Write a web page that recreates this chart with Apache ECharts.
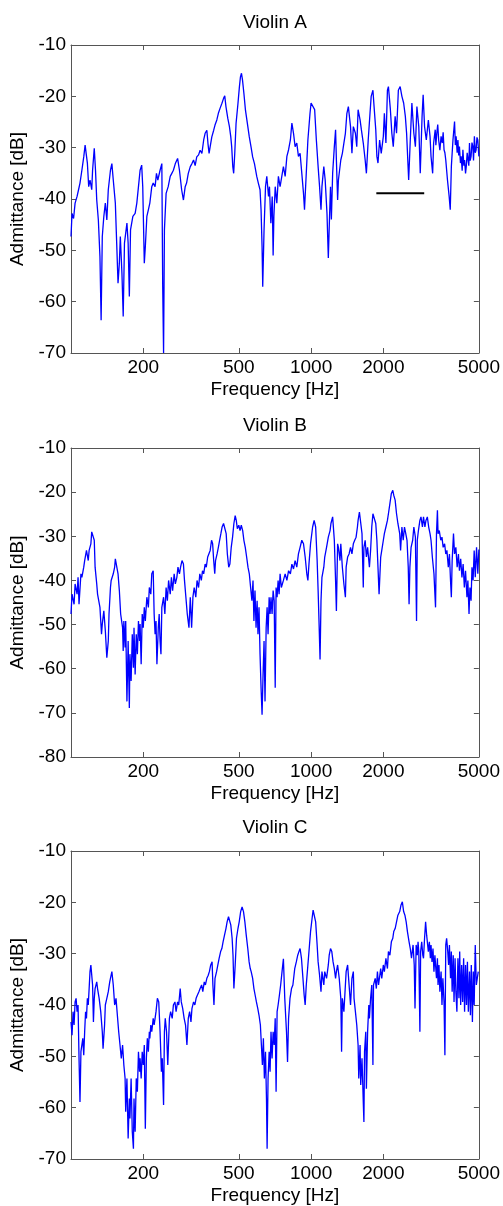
<!DOCTYPE html>
<html>
<head>
<meta charset="utf-8">
<script src="https://cdn.jsdelivr.net/npm/echarts@6/dist/echarts.min.js"></script>
<style>
  html, body { margin: 0; padding: 0; background: #fff; }
  #chart { width: 503px; height: 1206px; }
</style>
</head>
<body>
<div id="chart"></div>
<script>
// frequency ticks shared by all three panels
var xTicks = [200, 500, 1000, 2000, 5000];
var titles = ['Violin A', 'Violin B', 'Violin C'];
var yMins = [-70, -80, -70];

// Violin A
var freqA = [100, 101, 102.5, 104, 106, 107.5, 109, 111, 113, 114.5, 117, 118.5, 120, 122, 123, 125, 126.5, 128, 130, 132,
  133.5, 135, 137, 139, 141, 143, 146, 148, 150, 153, 155, 157, 159, 160.5, 163, 165, 167, 171, 173, 175,
  177, 181, 185, 188, 191, 194, 197, 199, 202, 204, 207, 210, 213, 217, 220, 224, 227, 230, 235, 239,
  241, 243, 245, 249, 254, 259, 263, 267, 272, 278, 283, 289, 294, 299, 303, 308, 314, 319, 324, 329,
  334, 340, 345, 351, 357, 362, 368, 372, 376, 380, 386, 393, 398, 405, 411, 418, 425, 432, 437, 442,
  450, 457, 463, 467, 472, 476, 481, 487, 496, 503, 508, 513, 518, 525, 533, 543, 553, 562, 571, 581,
  594, 603, 613, 619, 625, 629, 637, 646, 654, 665, 671, 680, 689, 695, 700, 709, 720, 731, 743, 767,
  780, 793, 806, 820, 832, 845, 858, 872, 886, 900, 915, 930, 939, 955, 970, 990, 1000, 1013, 1035, 1052,
  1070, 1085, 1100, 1110, 1130, 1145, 1165, 1180, 1195, 1205, 1215, 1230, 1250, 1265, 1275, 1290, 1300, 1330, 1350, 1370,
  1390, 1410, 1430, 1460, 1480, 1500, 1530, 1550, 1570, 1600, 1620, 1650, 1680, 1700, 1730, 1760, 1780, 1810, 1830, 1860,
  1880, 1900, 1930, 1960, 2000, 2020, 2050, 2080, 2100, 2140, 2170, 2200, 2240, 2270, 2310, 2350, 2390, 2430, 2470, 2500,
  2550, 2590, 2630, 2680, 2720, 2760, 2810, 2850, 2900, 2930, 2970, 3020, 3080, 3130, 3160, 3210, 3240, 3290, 3310, 3340,
  3370, 3400, 3440, 3480, 3520, 3550, 3580, 3610, 3640, 3700, 3760, 3800, 3840, 3900, 3960, 3990, 4020, 4060, 4090, 4120,
  4150, 4190, 4220, 4260, 4290, 4330, 4360, 4400, 4430, 4470, 4500, 4540, 4570, 4600, 4640, 4680, 4720, 4750, 4790, 4830,
  4870, 4910, 4950, 5000];
var dbA = [-47.3, -42.8, -43.8, -40.8, -39.5, -38.2, -36.9, -34.4, -31.8, -29.5, -33, -37.6, -36.3, -38.2, -34.4, -30.1, -34.4, -40.2, -44.1, -51.2,
  -63.6, -47.3, -43.4, -40.8, -44.1, -38.2, -34.4, -33.1, -36.3, -40.8, -48.6, -56.4, -52.5, -47.3, -54.5, -62.9, -48.6, -44.7, -48.6, -59,
  -46, -43.4, -42.8, -40.8, -37.6, -34.4, -33.4, -37.6, -52.5, -49.3, -43.4, -42.1, -40.8, -37.6, -36.9, -37.6, -35, -36.3, -34.4, -33.1,
  -57.1, -70, -46, -38.9, -37.6, -35.6, -35, -34.4, -33.1, -32.1, -34.4, -38.2, -40.2, -37.6, -36.9, -35, -33.7, -33.1, -32.4, -33.5,
  -31.8, -31.4, -30.5, -31.1, -28.5, -27.2, -26.6, -29.2, -31.1, -29.8, -27.9, -26.6, -25.6, -24.6, -23.3, -22.3, -21.4, -20.4, -19.9, -22,
  -24.3, -25.9, -27.9, -29.8, -33.7, -35, -31.1, -25.3, -21.4, -18.1, -16.2, -15.5, -16.8, -19.4, -22.7, -25.3, -27.9, -29.8, -31.8, -33.1,
  -35.6, -36.9, -38.2, -42.1, -49.3, -57.1, -46, -37.6, -35.6, -39.5, -37.6, -44.7, -39.5, -51, -43.4, -37.6, -40.8, -35.6, -37.6, -33.7,
  -35.6, -31.7, -30.4, -28.5, -25.2, -27.2, -29.8, -29.1, -31.7, -31.1, -35, -38.9, -42.1, -35, -28.5, -23.3, -21.3, -21, -22.6, -28.5,
  -33.7, -37.6, -42.1, -37.6, -33.7, -36.3, -42.8, -51.5, -42.8, -37.6, -44, -35, -29.8, -26.5, -32.4, -40.2, -36.3, -32.4, -31.1, -29.1,
  -27.2, -23.3, -22, -25.9, -31.1, -25.9, -27.2, -29.8, -22.6, -24.6, -26.5, -29.1, -32.4, -35, -28.5, -23.3, -20, -18.8, -22, -26.5,
  -31.7, -33, -28.5, -31.1, -27.8, -23.3, -29.1, -18.8, -18.1, -22.6, -27.2, -29.8, -23.9, -27.2, -18.8, -18.1, -20, -21.3, -23.9, -27.2,
  -36.3, -28.5, -21.3, -27.2, -29.8, -22, -25.9, -35, -23.9, -19.7, -25.9, -28.5, -24.6, -27.8, -31.7, -35, -29.1, -26.5, -29.5, -27.2,
  -25.5, -28.5, -30.5, -27.8, -29.1, -27, -30.4, -31, -32.4, -36.3, -39.5, -42.1, -33.7, -28.5, -24.9, -29.5, -27.8, -31, -28.5, -31.5,
  -29.8, -33, -31.7, -34.5, -30.4, -33.5, -32.4, -35, -33.7, -31, -31.1, -33.5, -29.1, -32.5, -31.7, -29, -29.8, -32.5, -27.8, -31,
  -30.4, -28, -28.5, -31.7];

// Violin B
var freqB = [100, 101, 103, 104, 106, 107, 108, 110, 111, 113, 114, 116, 118, 119, 121, 122, 123, 125, 126, 128,
  129, 132, 134, 135, 137, 139, 141, 143, 144, 146, 147, 150, 152, 153, 155, 157, 159, 161, 164, 165,
  166, 168, 169, 171, 173, 175, 176, 178, 180, 182, 183, 185, 187, 189, 191, 193, 194, 196, 198, 200,
  202, 204, 207, 210, 212, 215, 217, 220, 222, 224, 226, 228, 231, 233, 235, 237, 239, 243, 246, 249,
  252, 255, 259, 262, 265, 269, 272, 276, 279, 283, 286, 290, 294, 297, 301, 305, 310, 314, 318, 322,
  326, 331, 335, 340, 344, 349, 353, 357, 362, 366, 371, 376, 380, 385, 389, 393, 397, 400, 406, 411,
  416, 421, 426, 432, 437, 443, 448, 454, 459, 465, 471, 477, 483, 488, 493, 500, 506, 512, 519, 525,
  532, 539, 546, 553, 560, 567, 573, 578, 584, 590, 596, 601, 607, 613, 619, 625, 631, 637, 643, 650,
  656, 662, 669, 675, 681, 688, 695, 702, 709, 715, 722, 729, 736, 743, 752, 767, 780, 793, 806, 820,
  832, 845, 858, 872, 886, 900, 915, 930, 945, 960, 970, 980, 995, 1015, 1030, 1045, 1060, 1070, 1080, 1090,
  1100, 1110, 1130, 1140, 1160, 1180, 1200, 1210, 1230, 1240, 1250, 1265, 1275, 1290, 1300, 1320, 1330, 1350, 1370, 1390,
  1400, 1420, 1440, 1460, 1480, 1500, 1520, 1540, 1560, 1570, 1590, 1620, 1630, 1650, 1660, 1680, 1700, 1720, 1750, 1770,
  1790, 1810, 1830, 1860, 1880, 1900, 1920, 1950, 1970, 2000, 2020, 2050, 2080, 2100, 2130, 2160, 2190, 2210, 2240, 2270,
  2300, 2340, 2360, 2390, 2420, 2450, 2480, 2510, 2540, 2560, 2580, 2610, 2650, 2680, 2720, 2750, 2770, 2800, 2840, 2870,
  2910, 2940, 2980, 3010, 3050, 3090, 3130, 3160, 3200, 3250, 3280, 3300, 3330, 3360, 3380, 3420, 3470, 3510, 3550, 3600,
  3640, 3680, 3730, 3770, 3810, 3840, 3870, 3920, 3960, 4010, 4060, 4110, 4150, 4200, 4250, 4300, 4350, 4400, 4460, 4500,
  4550, 4590, 4640, 4680, 4730, 4780, 4830, 4890, 4950, 5000];
var dbB = [-47.6, -43.1, -45.4, -40.8, -43.1, -39.3, -45.4, -38.5, -39.3, -37, -35.5, -33.2, -35.5, -33.2, -31.7, -29, -28.7, -30.9, -37, -40.8,
  -43.1, -46.1, -52.2, -49.9, -46.9, -51.4, -57.5, -53.7, -47.6, -41.6, -40, -38.5, -37, -35.1, -35.5, -38.5, -42.3, -47.6, -50.7, -56,
  -49.2, -55.2, -49.2, -67.4, -53.7, -68.9, -56.7, -62.8, -52.2, -59.8, -50.7, -61.3, -52.2, -56.7, -49.2, -53.7, -49.9, -59, -47.6, -50.7,
  -46.1, -49.2, -43.8, -46.1, -41.6, -43.1, -38.5, -37.8, -47.6, -52.2, -49.2, -59, -50.7, -47.6, -53.7, -56.7, -46.1, -43.8, -47.6, -41.6,
  -44.6, -40, -43.1, -39.3, -42.3, -38.5, -40.8, -39.3, -37, -38.5, -37, -35.5, -36.3, -40, -43.8, -47.6, -50.7, -43.8, -50.7, -43.8,
  -41.6, -43.8, -40, -41.6, -38.5, -40, -37.8, -38.5, -36.3, -37, -34.7, -35.1, -33.2, -30.9, -31.7, -35.5, -38.5, -35.5, -34, -32.5,
  -30.9, -29.4, -27.9, -27.1, -27.5, -29.4, -34, -37, -36.3, -32.5, -30.2, -27.1, -25.3, -26.4, -28.3, -27.5, -28.7, -27.5, -28.7, -30.9,
  -32.5, -34.7, -37, -38.5, -41.6, -44.6, -40, -49.2, -42.3, -50.7, -44.6, -52.2, -46.1, -56.7, -64.3, -70.4, -61.3, -53.7, -67.4, -50.7,
  -46.1, -52.2, -43.8, -47.6, -43.8, -47.6, -42.3, -44.6, -64.3, -41.6, -43.8, -40, -43.1, -38.5, -41.6, -40, -38.5, -40, -37.8, -38.5,
  -36.3, -37.4, -35.5, -37, -34, -32.5, -30.9, -31.7, -34.7, -38.5, -40, -36.3, -31.7, -27.9, -26.4, -27.9, -35.5, -42.3, -49.9, -57.9,
  -44.6, -39.3, -37, -34.7, -32.5, -30.2, -28.7, -27.1, -25.6, -25.6, -30.9, -40, -46.9, -31.7, -32.5, -35.5, -31.7, -37, -40.8, -43.8,
  -37, -34.7, -34, -32.5, -34, -31.7, -30.9, -30.2, -27.9, -26.4, -24.5, -24.9, -29.4, -41.6, -32.5, -30.9, -34.7, -32.5, -37, -33.2,
  -27.9, -24.9, -24.5, -27.1, -30.9, -37, -43.1, -34.7, -33.2, -30.9, -29.4, -27.9, -26.4, -24.9, -22.6, -20.3, -19.6, -20.7, -21.8, -24.9,
  -27.1, -29.4, -33.2, -27.9, -30.9, -27.9, -29.4, -30.9, -37, -45.4, -37, -32.5, -30.9, -27.9, -30.2, -49.2, -30.9, -28.7, -26.4, -25.6,
  -27.9, -25.6, -27.9, -26.4, -25.6, -27.9, -29.4, -30.9, -34.7, -38.5, -43.1, -46.1, -29.4, -24.1, -29.4, -28.7, -30.9, -30.2, -32.5, -31.7,
  -34, -33.2, -37, -34, -40, -43.8, -35.5, -29.4, -34, -32.5, -37, -34, -37.8, -35.1, -39.3, -36.3, -41.6, -37.8, -43.8, -40,
  -47.6, -41.6, -44.6, -37, -40, -33.2, -39.3, -32.5, -38.5, -33];

// Violin C
var freqC = [100, 101, 102, 103, 104, 105, 106, 107, 108, 109, 110, 112, 113, 114, 115, 116, 117, 118, 119, 120,
  121, 123, 124, 125, 126, 128, 129, 131, 133, 135, 136, 138, 139, 141, 143, 145, 146, 148, 150, 152,
  154, 156, 158, 160, 162, 164, 166, 168, 169, 171, 173, 175, 176, 178, 180, 182, 183, 185, 187, 189,
  191, 193, 194, 196, 198, 200, 202, 204, 206, 208, 210, 212, 213, 215, 217, 220, 222, 224, 226, 229,
  232, 235, 238, 240, 243, 245, 247, 250, 253, 257, 260, 264, 267, 271, 274, 278, 281, 285, 288, 292,
  296, 300, 304, 308, 312, 316, 319, 324, 328, 332, 336, 341, 345, 350, 354, 359, 363, 368, 373, 377,
  382, 387, 390, 394, 398, 404, 409, 414, 420, 425, 430, 436, 442, 447, 453, 457, 463, 469, 473, 477,
  483, 489, 496, 502, 509, 516, 523, 530, 537, 545, 552, 558, 563, 571, 578, 585, 592, 600, 607, 615,
  621, 627, 633, 639, 646, 652, 656, 662, 669, 675, 681, 688, 695, 702, 709, 715, 722, 729, 738, 747,
  757, 767, 777, 790, 798, 806, 817, 829, 840, 855, 868, 880, 890, 900, 912, 925, 936, 945, 955, 970,
  985, 995, 1010, 1020, 1030, 1045, 1060, 1070, 1085, 1100, 1110, 1130, 1140, 1160, 1180, 1190, 1205, 1220, 1235, 1250,
  1265, 1275, 1290, 1310, 1330, 1340, 1350, 1370, 1390, 1400, 1420, 1440, 1460, 1480, 1500, 1510, 1530, 1550, 1570, 1580,
  1600, 1610, 1630, 1650, 1660, 1670, 1690, 1700, 1720, 1740, 1750, 1770, 1790, 1810, 1820, 1850, 1870, 1890, 1910, 1950,
  1970, 2000, 2020, 2050, 2080, 2100, 2130, 2160, 2190, 2210, 2240, 2270, 2300, 2340, 2370, 2400, 2430, 2460, 2490, 2520,
  2560, 2590, 2620, 2660, 2690, 2710, 2740, 2770, 2790, 2810, 2840, 2860, 2890, 2920, 2940, 2970, 3000, 3030, 3050, 3080,
  3110, 3140, 3160, 3190, 3220, 3250, 3280, 3330, 3360, 3380, 3410, 3440, 3480, 3510, 3540, 3580, 3610, 3640, 3670, 3710,
  3740, 3770, 3810, 3840, 3870, 3910, 3940, 3980, 4010, 4050, 4090, 4130, 4160, 4200, 4240, 4280, 4320, 4360, 4400, 4440,
  4480, 4520, 4570, 4610, 4650, 4700, 4740, 4780, 4830, 4880, 4970];
var dbC = [-43.3, -45.9, -41.3, -43.9, -39.4, -38.7, -41.3, -40, -50.4, -58.9, -49.1, -46.5, -49.8, -45.2, -41.3, -42.6, -38.7, -40, -36.8, -33.5,
  -32.2, -36.1, -43.3, -38.7, -36.8, -35.5, -36.8, -38.7, -41.3, -45.2, -48.5, -43.9, -40, -38.7, -37.4, -35.5, -34.8, -33.5, -36.1, -40,
  -38.7, -42, -45.2, -47.8, -50.4, -47.8, -51.7, -54.3, -60.8, -54.3, -66, -58.2, -62.1, -54.3, -64.7, -68, -58.2, -64.7, -54.3, -56.9,
  -49.1, -53, -50.4, -54.3, -49.1, -51.7, -47.8, -64.1, -50.4, -46.5, -49.1, -45.2, -46.5, -43.9, -45.2, -42.6, -43.9, -42.6, -41.3, -38.7,
  -39.4, -45.2, -53, -50.4, -59.5, -45.2, -42.6, -45.2, -51.7, -42.6, -41.3, -42.6, -40, -39.4, -41.3, -39.4, -40, -36.8, -39.4, -40.7,
  -42.6, -43.9, -47.8, -42.6, -41.3, -43.3, -40.7, -39.4, -40, -38.7, -38.1, -37.4, -36.8, -36.1, -37.4, -35.5, -36.1, -34.8, -34.2, -33.5,
  -32.2, -31.6, -36.1, -40, -34.8, -33.5, -32.2, -30.9, -29.6, -29, -27.7, -26.4, -25.1, -23.8, -22.8, -23.1, -24.4, -27, -30.3, -36.8,
  -32.2, -27, -25.1, -23.8, -21.8, -20.9, -21.8, -23.8, -26.4, -29, -31.6, -32.9, -33.5, -34.8, -36.8, -38.1, -39.4, -40.7, -42, -43.9,
  -47.8, -51.7, -46.5, -54.3, -49.1, -58.2, -68, -54.3, -49.1, -53, -45.2, -50.4, -45.2, -47.8, -42.6, -56.9, -41.3, -40, -38.1, -36.1,
  -33.5, -31, -38.7, -45.2, -51.1, -42.6, -38.7, -36.8, -36.1, -32.9, -31.6, -30.3, -29.6, -29, -30.9, -34.8, -38.1, -40, -36.1, -32.2,
  -28.3, -25.7, -23.1, -21.5, -21.2, -23.8, -28.3, -31.6, -34.2, -37.4, -33.5, -36.1, -33.5, -34.8, -32.2, -30.3, -29, -29.6, -31.6, -32.9,
  -34.8, -33.5, -32.2, -34.8, -38.7, -49.1, -38.7, -41.3, -36.1, -33.5, -32.2, -36.1, -40, -34.8, -33.5, -38.7, -41.3, -43.9, -47.8, -54.3,
  -47.8, -55.6, -50.4, -58.9, -62.8, -49.1, -45.2, -56.3, -45.2, -40, -42.6, -38.7, -36.1, -51.7, -36.1, -34.8, -36.8, -33.5, -36.1, -32.9,
  -34.8, -32.2, -33.5, -30.9, -32.9, -29.6, -30.3, -27.7, -27, -25.7, -25.1, -23.8, -22.5, -21.8, -20.5, -19.9, -21.8, -22.5, -23.8, -25.7,
  -27.7, -29, -30.9, -28.3, -32.2, -40.7, -28.3, -30.3, -27.7, -29.6, -45.2, -29.6, -27.7, -30.3, -30.9, -27, -23.8, -26.4, -27.7, -29.6,
  -27.7, -30.9, -28.3, -31.6, -29, -33.5, -30.3, -34.8, -30.9, -36.1, -32.2, -37.4, -33.5, -40, -34.8, -39.4, -49.8, -28.3, -27, -29.6,
  -32.2, -28.3, -34.8, -29.6, -37.4, -30.3, -39.4, -30.9, -37.4, -41.3, -30.9, -38.7, -29.6, -40, -32.2, -39.4, -30.9, -41.3, -32.2, -40,
  -31.6, -41.3, -33.5, -42, -32.2, -43.3, -33.5, -40, -28.3, -36.1, -33.5];

// black reference bar in panel A
var barFreq = [1870, 2960];
var barDb = [-38.9, -38.9];

var tops = [45, 448, 851];
var heights = [308, 309, 309];
var titleTops = [13, 416, 818];
var font = 'Arial, "Liberation Sans", Helvetica, sans-serif';
var axisColor = '#555';

function pairs(fs, ds) {
  return fs.map(function (f, i) { return [f, ds[i]]; });
}

var grids = [], xAxes = [], yAxes = [], series = [], titleList = [];
var panelData = [pairs(freqA, dbA), pairs(freqB, dbB), pairs(freqC, dbC)];

for (var i = 0; i < 3; i++) {
  grids.push({ left: 71, width: 408, top: tops[i], height: heights[i] });
  titleList.push({
    text: titles[i], left: 275, top: titleTops[i], textAlign: 'center', padding: 0,
    textStyle: { fontFamily: font, fontSize: 19, fontWeight: 'normal', color: '#000' }
  });
  // bottom frequency axis
  xAxes.push({
    gridIndex: i, type: 'log', logBase: 10, min: 100, max: 5000, position: 'bottom',
    name: 'Frequency [Hz]', nameLocation: 'middle', nameGap: 27,
    nameTextStyle: { fontFamily: font, fontSize: 19, color: '#000' },
    axisLine: { show: true, lineStyle: { color: axisColor, width: 1 } },
    axisTick: { show: true, inside: true, length: 5, customValues: xTicks, lineStyle: { color: axisColor } },
    minorTick: { show: false },
    axisLabel: {
      customValues: xTicks, fontFamily: font, fontSize: 19, color: '#000', margin: 5,
      formatter: function (v) { return String(Math.round(v)); }
    },
    splitLine: { show: false }
  });
  // top box edge
  xAxes.push({
    gridIndex: i, type: 'log', logBase: 10, min: 100, max: 5000, position: 'top',
    axisLine: { show: true, lineStyle: { color: axisColor, width: 1 } },
    axisTick: { show: true, inside: true, length: 5, customValues: xTicks, lineStyle: { color: axisColor } },
    axisLabel: { show: false },
    splitLine: { show: false }
  });
  yAxes.push({
    gridIndex: i, type: 'value', min: yMins[i], max: -10, interval: 10, position: 'left',
    name: 'Admittance [dB]', nameLocation: 'middle', nameGap: 40,
    nameTextStyle: { fontFamily: font, fontSize: 19, color: '#000' },
    axisLine: { show: true, lineStyle: { color: axisColor, width: 1 } },
    axisTick: { show: true, inside: true, length: 5, lineStyle: { color: axisColor } },
    axisLabel: { fontFamily: font, fontSize: 19, color: '#000', margin: 5 },
    splitLine: { show: false }
  });
  yAxes.push({
    gridIndex: i, type: 'value', min: yMins[i], max: -10, interval: 10, position: 'right',
    axisLine: { show: true, lineStyle: { color: axisColor, width: 1 } },
    axisTick: { show: true, inside: true, length: 5, lineStyle: { color: axisColor } },
    axisLabel: { show: false },
    splitLine: { show: false }
  });
  series.push({
    type: 'line', xAxisIndex: i * 2, yAxisIndex: i * 2, data: panelData[i],
    showSymbol: false, symbol: 'none', animation: false, clip: true,
    lineStyle: { color: '#0000ff', width: 1.3 }
  });
}

series.push({
  type: 'line', xAxisIndex: 0, yAxisIndex: 0, data: pairs(barFreq, barDb),
  showSymbol: false, symbol: 'none', animation: false,
  lineStyle: { color: '#000', width: 2 }
});

var chart = echarts.init(document.getElementById('chart'));
chart.setOption({
  backgroundColor: '#fff',
  animation: false,
  title: titleList,
  grid: grids,
  xAxis: xAxes,
  yAxis: yAxes,
  series: series
});
</script>
</body>
</html>
